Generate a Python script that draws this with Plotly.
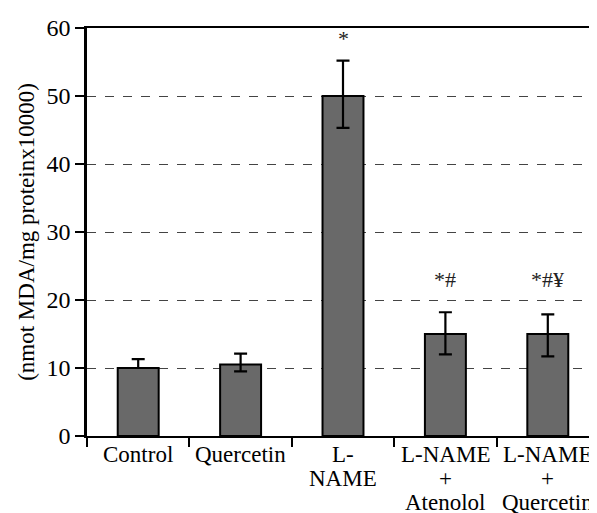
import plotly.graph_objects as go

category_lines = [["Control"], ["Quercetin"], ["L-", "NAME"],
                  ["L-NAME", "+", "Atenolol"], ["L-NAME", "+", "Quercetin"]]
categories = [" ".join(l) for l in category_lines]
values = [10.0, 10.5, 50.0, 15.0, 15.0]
err_plus = [1.3, 1.6, 5.2, 3.2, 2.9]
err_minus = [0.0, 1.0, 4.7, 3.0, 3.3]
sig_labels = ["", "", "*", "*#", "*#¥"]
sig_y = [0, 0, 58.4, 23.0, 23.0]

FONT = "Liberation Serif"

fig = go.Figure()
fig.add_trace(go.Bar(
    x=categories, y=values, width=0.4,
    marker=dict(color="#696969", line=dict(color="black", width=2)),
    error_y=dict(type="data", symmetric=False, array=err_plus, arrayminus=err_minus,
                 color="black", thickness=2.2, width=6.5),
))

for c, s, yy in zip(categories, sig_labels, sig_y):
    if s:
        fig.add_annotation(x=c, y=yy, text=s, showarrow=False,
                           font=dict(family=FONT, size=22, color="#222"))

for c, lines in zip(categories, category_lines):
    for i, line in enumerate(lines):
        fig.add_annotation(x=c, xref="x", y=0, yref="paper", text=line, showarrow=False,
                           yanchor="middle", yshift=-(18 + 24 * i),
                           font=dict(family=FONT, size=23, color="black"))

fig.update_layout(
    width=597, height=513,
    margin=dict(l=79, r=3, t=20, b=85),
    paper_bgcolor="white", plot_bgcolor="white",
    showlegend=False,
    font=dict(family=FONT, size=22, color="black"),
    bargap=0.6,
)
fig.update_xaxes(
    type="category", tickson="boundaries", ticks="outside", ticklen=9, tickwidth=2,
    tickcolor="black", showline=True, linecolor="black", linewidth=2, mirror=True,
    showgrid=False, showticklabels=False,
)
fig.update_yaxes(
    range=[0, 60], dtick=10, ticks="outside", ticklen=9, tickwidth=2, tickcolor="black",
    showline=True, linecolor="black", linewidth=2.5, mirror=True,
    showgrid=True, gridcolor="#444", gridwidth=1, griddash="dash", zeroline=False,
    tickfont=dict(family=FONT, size=24, color="black"),
    title=dict(text="(nmot MDA/mg proteinx10000)", font=dict(family=FONT, size=23, color="black"),
               standoff=6),
)

fig.write_html("out.html")
